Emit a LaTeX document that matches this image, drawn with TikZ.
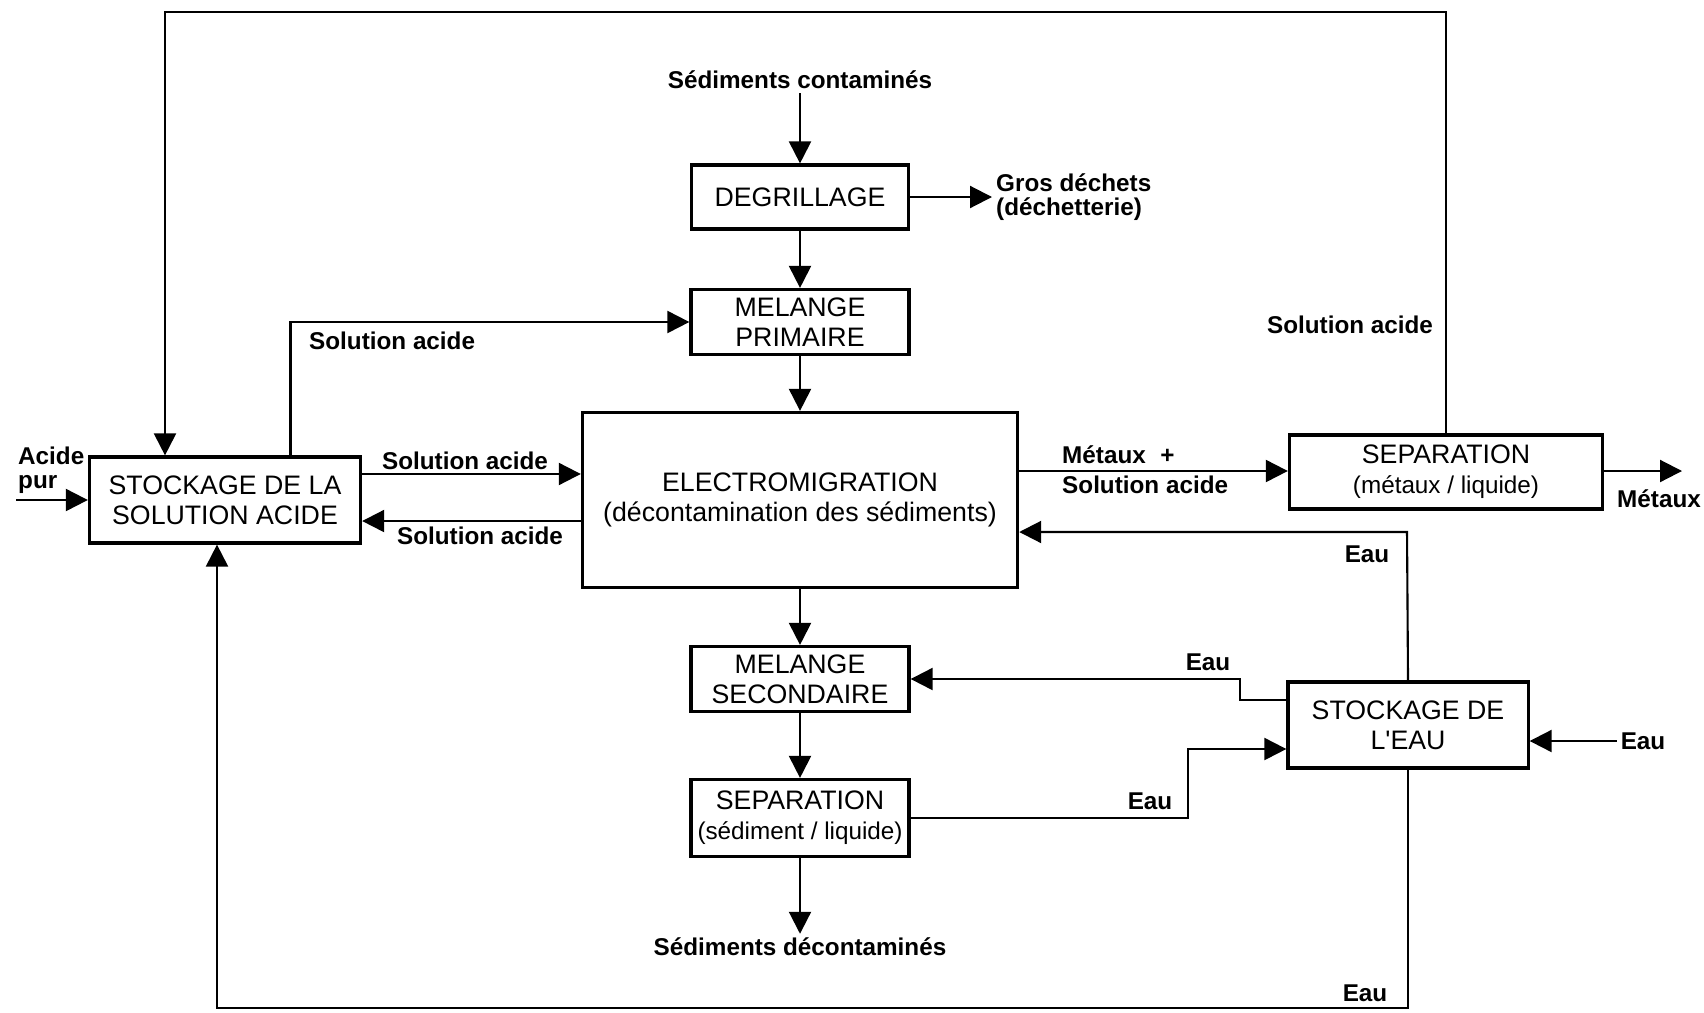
\documentclass[tikz,border=0pt]{standalone}
\usepackage{fontspec}
\setmainfont{Liberation Sans}[Ligatures=TeXOff]
\usetikzlibrary{arrows.meta}
\tikzset{
  bloc/.style={draw, line width=0.9pt, align=center, inner sep=0pt,
    font=\fontsize{7.6}{8.5}\selectfont},
  lbl/.style={font=\bfseries\fontsize{6.9}{6.9}\selectfont, align=left, inner sep=1pt},
  fl/.style={line width=0.6pt, -{Triangle[length=0.22cm,width=0.22cm]}},
  ln/.style={line width=0.6pt}
}
\newcommand{\petit}{\fontsize{6.9}{7.5}\selectfont}
\begin{document}
\begin{tikzpicture}[x=0.01cm,y=-0.01cm]
\useasboundingbox (0,0) rectangle (1704,1012);
\node[bloc, minimum width=2.17cm, minimum height=0.64cm] (deg) at (800,197) {DEGRILLAGE};
\node[bloc, minimum width=2.18cm, minimum height=0.65cm] (mp) at (800,322) {MELANGE\\PRIMAIRE};
\node[bloc, minimum width=4.35cm, minimum height=1.75cm] (electro) at (800,500) {ELECTROMIGRATION\\(décontamination des sédiments)};
\node[bloc, minimum width=2.71cm, minimum height=0.86cm] (ssa) at (225,500) {STOCKAGE DE LA\\SOLUTION ACIDE};
\node[bloc, minimum width=3.13cm, minimum height=0.74cm] (sepm) at (1446,472) {SEPARATION\\{\petit(métaux / liquide)}};
\node[bloc, minimum width=2.18cm, minimum height=0.65cm] (ms) at (800,679) {MELANGE\\SECONDAIRE};
\node[bloc, minimum width=2.40cm, minimum height=0.86cm] (seau) at (1408,725) {STOCKAGE DE\\L'EAU};
\node[bloc, minimum width=2.18cm, minimum height=0.77cm] (ss) at (800,818) {SEPARATION\\{\petit(sédiment / liquide)}};

\node[lbl] (cont) at (800,80) {Sédiments contaminés};
\node[lbl] (decont) at (800,947) {Sédiments décontaminés};
\node[lbl, anchor=west] (gros) at (992,197) {Gros déchets\\(déchetterie)};
\node[lbl, anchor=west] (acide) at (14,470) {Acide\\pur};
\node[lbl, anchor=west] (sa1) at (305,341) {Solution acide};
\node[lbl] (sa2) at (465,461) {Solution acide};
\node[lbl] (sa3) at (480,536) {Solution acide};
\node[lbl] (sa4) at (1350,325) {Solution acide};
\node[lbl, anchor=west] (mplus) at (1058,455) {Métaux\hspace{0.6em}+};
\node[lbl, anchor=west] (sa5) at (1058,485) {Solution acide};
\node[lbl] (met) at (1659,499) {Métaux};
\node[lbl] (eau1) at (1367,554) {Eau};
\node[lbl] (eau2) at (1208,662) {Eau};
\node[lbl] (eau3) at (1643,741) {Eau};
\node[lbl] (eau4) at (1150,801) {Eau};
\node[lbl] (eau5) at (1365,993) {Eau};

\coordinate (tl) at (165,12);
\coordinate (ain) at (16,500);
\coordinate (mout) at (1682,471);
\coordinate (b1) at (1407,532);
\coordinate (b2) at (1240,679);
\coordinate (b3) at (1188,749);
\coordinate (b4) at (217,1008);

\draw[fl] (cont) -- (deg);
\draw[fl] (deg) -- (mp);
\draw[fl] (deg.east) -- (gros.west);
\draw[fl] (mp) -- (electro);
\draw[fl] (electro) -- (ms);
\draw[fl] (ms) -- (ss);
\draw[fl] (ss) -- (decont);
\draw[fl] (ain) -- (ssa.west);
\draw[fl] (sepm.north) |- (tl) -- (tl |- ssa.north);
\draw[fl] ([xshift=0.655cm]ssa.north) |- (mp.west);
\draw[fl] ([yshift=0.26cm]ssa.east) -- ([yshift=0.26cm]ssa.east -| electro.west);
\draw[fl] ([yshift=-0.21cm]ssa.east -| electro.west) -- ([yshift=-0.21cm]ssa.east);
\draw[fl] (electro.east |- mout) -- (mout -| sepm.west);
\draw[fl] (sepm.east |- mout) -- (mout);
\draw[fl] (seau.north) -- (b1) -- (b1 -| electro.east);
\draw[fl] ([yshift=0.25cm]seau.west) -| (b2) -- (b2 -| ms.east);
\draw[fl] (eau3.west) -- (eau3.west -| seau.east);
\draw[fl] (ss.east) -| (b3) -- (b3 -| seau.west);
\draw[fl] (seau.south) |- (b4) -- (b4 |- ssa.south);
\end{tikzpicture}
\end{document}
